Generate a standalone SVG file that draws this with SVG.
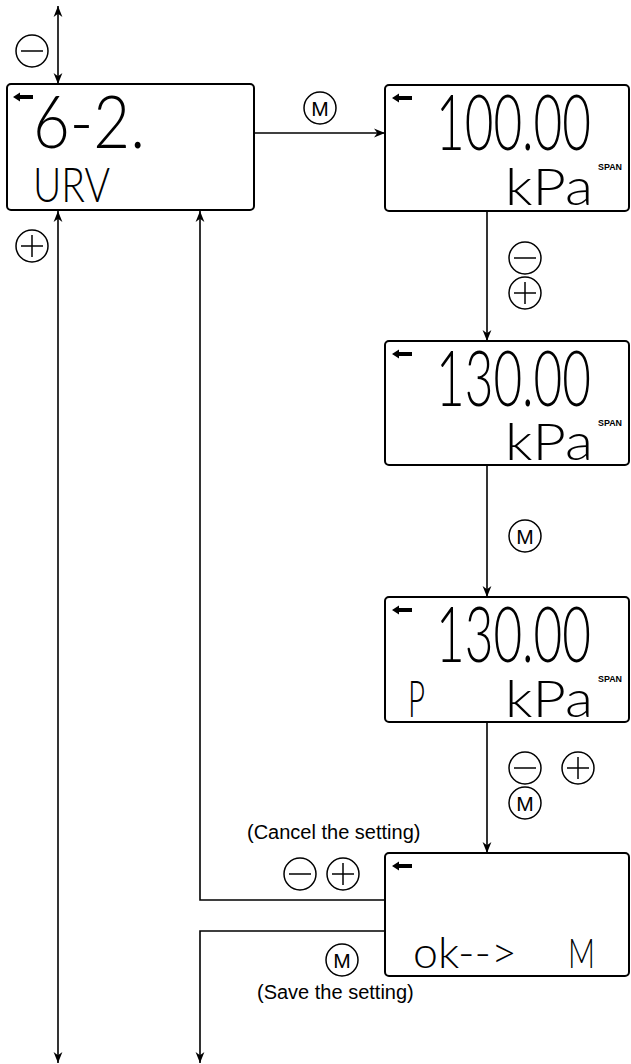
<svg xmlns="http://www.w3.org/2000/svg" width="631" height="1064" viewBox="0 0 631 1064">
<style>
.box{fill:#fff;stroke:#000;stroke-width:2}
.con{fill:none;stroke:#000;stroke-width:1.6}
.btn{fill:#fff;stroke:#000;stroke-width:1.5}
.sym{stroke:#000;stroke-width:1.5;fill:none}
.lcd{font-family:Lato,"DejaVu Sans",sans-serif;font-weight:300;fill:#000}
.span{font-family:"Liberation Sans",Arial,sans-serif;font-weight:bold;font-size:9px;fill:#000}
.lbl{font-family:"Liberation Sans",Arial,sans-serif;font-size:20px;fill:#000}
.mt{font-family:"Liberation Sans",Arial,sans-serif;font-size:21px;fill:#000;text-anchor:middle}
</style>
<defs>
<marker id="ah" viewBox="0 0 10 10" refX="10" refY="5" markerWidth="11" markerHeight="11" markerUnits="userSpaceOnUse" orient="auto-start-reverse">
<path d="M0,1 L10,5 L0,9 L3,5 Z" fill="#000"/>
</marker>
<g id="larr"><path d="M0,3 L7,-1.5 L7,1 L20,1 L20,5 L7,5 L7,7.5 Z" fill="#000"/></g>
<g id="minus"><circle r="16" class="btn"/><line x1="-11" y1="0" x2="11" y2="0" class="sym"/></g>
<g id="plus"><circle r="16" class="btn"/><line x1="-11" y1="0" x2="11" y2="0" class="sym"/><line x1="0" y1="-11" x2="0" y2="11" class="sym"/></g>
<g id="mbtn"><circle r="16" class="btn"/><text y="7.5" class="mt">M</text></g>
</defs>

<g id="connectors">
<line x1="58" y1="6" x2="58" y2="84" class="con" marker-start="url(#ah)" marker-end="url(#ah)"/>
<line x1="58" y1="211" x2="58" y2="1063" class="con" marker-start="url(#ah)" marker-end="url(#ah)"/>
<line x1="254" y1="133" x2="385" y2="133" class="con" marker-end="url(#ah)"/>
<line x1="487" y1="212" x2="487" y2="341" class="con" marker-end="url(#ah)"/>
<line x1="487" y1="466" x2="487" y2="597" class="con" marker-end="url(#ah)"/>
<line x1="487" y1="723" x2="487" y2="853" class="con" marker-end="url(#ah)"/>
<polyline points="385,900 200,900 200,211" class="con" marker-end="url(#ah)"/>
<polyline points="385,931 200,931 200,1063" class="con" marker-end="url(#ah)"/>
</g>

<g id="buttons">
<use href="#minus" x="32" y="51"/>
<use href="#plus" x="32" y="246"/>
<use href="#mbtn" x="320" y="108"/>
<use href="#minus" x="525" y="258"/>
<use href="#plus" x="525" y="293"/>
<use href="#mbtn" x="525" y="536"/>
<use href="#minus" x="525" y="768"/>
<use href="#plus" x="578" y="768"/>
<use href="#mbtn" x="525" y="803"/>
<use href="#minus" x="300" y="874"/>
<use href="#plus" x="343" y="874"/>
<use href="#mbtn" x="342" y="960"/>
</g>

<g id="labels">
<text x="247" y="839" class="lbl">(Cancel the setting)</text>
<text x="257" y="999" class="lbl">(Save the setting)</text>
</g>

<g id="node-urv">
<rect x="7" y="84" width="247" height="126" rx="4" class="box"/>
<use href="#larr" x="13" y="94"/>
<text transform="translate(33,148) scale(1,1.15)" class="lcd" font-size="64" textLength="112" lengthAdjust="spacingAndGlyphs">6-2.</text>
<text transform="translate(33,202) scale(1,1.17)" class="lcd" font-size="40" textLength="77" lengthAdjust="spacingAndGlyphs">URV</text>
</g>

<g id="node-span1">
<rect x="385" y="85" width="244" height="126" rx="4" class="box"/>
<use href="#larr" x="392" y="95"/>
<text transform="translate(436,150) scale(1,1.57)" class="lcd" font-size="49" textLength="155" lengthAdjust="spacingAndGlyphs">100.00</text>
<text transform="translate(505,205) scale(1,1.2)" class="lcd" font-size="42" textLength="88" lengthAdjust="spacingAndGlyphs">kPa</text>
<text x="598" y="170" class="span" textLength="24" lengthAdjust="spacingAndGlyphs">SPAN</text>
</g>

<g id="node-span2">
<rect x="385" y="341" width="244" height="124" rx="4" class="box"/>
<use href="#larr" x="392" y="351"/>
<text transform="translate(436,406) scale(1,1.57)" class="lcd" font-size="49" textLength="155" lengthAdjust="spacingAndGlyphs">130.00</text>
<text transform="translate(505,460) scale(1,1.2)" class="lcd" font-size="42" textLength="88" lengthAdjust="spacingAndGlyphs">kPa</text>
<text x="598" y="426" class="span" textLength="24" lengthAdjust="spacingAndGlyphs">SPAN</text>
</g>

<g id="node-span3">
<rect x="385" y="597" width="244" height="125" rx="4" class="box"/>
<use href="#larr" x="392" y="607"/>
<text transform="translate(436,662) scale(1,1.57)" class="lcd" font-size="49" textLength="155" lengthAdjust="spacingAndGlyphs">130.00</text>
<text transform="translate(408,717) scale(1,1.4)" class="lcd" font-size="36" textLength="17" lengthAdjust="spacingAndGlyphs">P</text>
<text transform="translate(505,717) scale(1,1.2)" class="lcd" font-size="42" textLength="88" lengthAdjust="spacingAndGlyphs">kPa</text>
<text x="598" y="682" class="span" textLength="24" lengthAdjust="spacingAndGlyphs">SPAN</text>
</g>

<g id="node-ok">
<rect x="385" y="853" width="244" height="123" rx="4" class="box"/>
<use href="#larr" x="392" y="863"/>
<text x="413" y="968" class="lcd" font-size="44" textLength="104" lengthAdjust="spacingAndGlyphs">ok--&gt;</text>
<text transform="translate(568,968) scale(1,1.3)" class="lcd" font-size="32" textLength="27" lengthAdjust="spacingAndGlyphs">M</text>
</g>
</svg>
